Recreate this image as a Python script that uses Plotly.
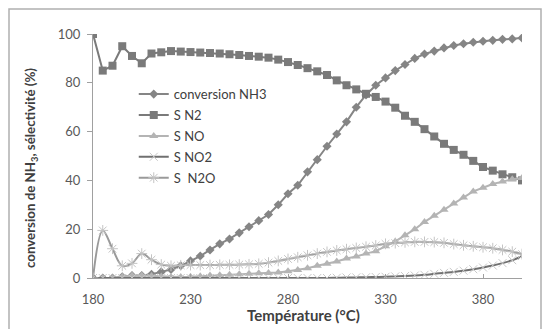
import plotly.graph_objects as go

temperature = [180, 185, 190, 195, 200, 205, 210, 215, 220, 225, 230, 235, 240, 245, 250,
               255, 260, 265, 270, 275, 280, 285, 290, 295, 300, 305, 310, 315, 320, 325,
               330, 335, 340, 345, 350, 355, 360, 365, 370, 375, 380, 385, 390, 395, 400]

conversion_nh3 = [0, 0, 0, 0.5, 1, 1, 1.5, 2.5, 3.5, 5, 7, 9, 11.5, 14, 16,
                  18.5, 21, 23.5, 26, 30, 34.5, 38, 43.5, 48.5, 54, 59, 64, 70, 75, 79,
                  82, 85, 87.5, 90, 91.8, 93, 94.3, 95.3, 96, 96.6, 97, 97.4, 97.8, 98, 98.4]

s_n2 = [100, 85, 87, 95, 91, 88, 92, 92.5, 93, 92.8, 92.6, 92.4, 92.2, 92, 91.7,
        91.4, 91, 90.7, 90.3, 89.5, 88.5, 87.3, 86, 84.7, 83.2, 81, 79, 77.3, 75.5, 74.2,
        72.3, 69.8, 66.5, 64, 61, 58, 55, 52.5, 50.5, 48, 45.5, 44, 42.5, 41.3, 40]

s_no = [0, 0, 0, 0.5, 1, 1, 0.8, 0.6, 0.4, 0.4, 0.5, 0.7, 1, 1.1, 1.3,
        1.5, 1.7, 1.9, 2, 2.3, 2.8, 3.3, 4, 5, 5.8, 6.8, 8, 8.8, 10, 11,
        13, 15, 17.5, 20, 23, 25.5, 28, 30.5, 33, 35.5, 37, 38.5, 39.5, 40.5, 41]

s_no2 = [0, 0, 0, 0, 0, 0, 0, 0, 0, 0, 0, 0, 0, 0, 0,
         0, 0, 0, 0, 0, 0, 0, 0, 0, 0, 0.1, 0.2, 0.25, 0.3, 0.4,
         0.5, 0.65, 0.8, 1.0, 1.3, 1.7, 2.1, 2.5, 3.0, 3.6, 4.3, 5.1, 6.1, 7.3, 9]

s_n2o = [0, 19.5, 12, 5, 6, 10, 7.5, 5.5, 5, 5.2, 5.3, 5.3, 5.3, 5.4, 5.4,
         5.5, 5.6, 5.8, 6.3, 7, 7.8, 8.5, 9.3, 10, 10.7, 11.3, 11.8, 12.3, 12.8, 13.3,
         14, 14.3, 14.6, 14.8, 14.8, 14.7, 14.4, 13.9, 13.4, 13, 12.6, 12.2, 11.5, 10.8, 9.8]

x_ticks = [180, 230, 280, 330, 380]
y_ticks = [0, 20, 40, 60, 80, 100]

x_title = "<b>Température (°C)</b>"
y_title = "<b>conversion de NH<sub>3</sub>, sélectivité (%)</b>"

FONT = "Lato"

fig = go.Figure()
fig.add_trace(go.Scatter(x=temperature, y=conversion_nh3, name="conversion NH3", mode="lines+markers",
                         legendgroup="g1",
                         line=dict(color="#858585", width=2),
                         marker=dict(symbol="diamond", size=7, color="#858585")))
fig.add_trace(go.Scatter(x=temperature, y=s_n2, name="S N2", mode="lines+markers",
                         legendgroup="g2",
                         line=dict(color="#7a7a7a", width=2),
                         marker=dict(symbol="square", size=8, color="#7a7a7a")))
fig.add_trace(go.Scatter(x=temperature, y=s_no, name="S NO", mode="lines+markers",
                         legendgroup="g3",
                         line=dict(color="#b4b4b4", width=2),
                         marker=dict(symbol="triangle-up", size=8, color="#b4b4b4")))
fig.add_trace(go.Scatter(x=temperature, y=s_no2, name="S NO2", mode="lines+markers",
                         legendgroup="g4",
                         line=dict(color="#707070", width=2, shape="spline"),
                         marker=dict(symbol="x-thin-open", size=8, color="#c8c8c8",
                                     line=dict(width=1, color="#c8c8c8"))))
fig.add_trace(go.Scatter(x=temperature, y=s_n2o, name="S  N2O", mode="lines+markers",
                         legendgroup="g5",
                         line=dict(color="#9a9a9a", width=2, shape="spline"),
                         marker=dict(symbol="asterisk-open", size=9, color="#c4c4c4",
                                     line=dict(width=1, color="#c4c4c4"))))

fig.update_layout(
    width=543, height=329,
    margin=dict(l=93, r=21, t=34, b=51),
    paper_bgcolor="white", plot_bgcolor="white",
    font=dict(family=FONT, color="#595959", size=13),
    showlegend=True,
    legend=dict(x=0.095, y=0.815, xanchor="left", yanchor="top",
                bgcolor="rgba(0,0,0,0)", font=dict(size=13, color="#404040"),
                itemwidth=30, tracegroupgap=1),
    xaxis=dict(range=[180, 400], tickvals=x_ticks, ticks="inside", ticklen=4,
               tickcolor="#a0a0a0", showline=True, linecolor="#a0a0a0", linewidth=1,
               showgrid=False, zeroline=False, tickfont=dict(size=13, color="#595959"),
               ticklabelstandoff=9),
    yaxis=dict(range=[0, 100], tickvals=y_ticks, ticks="outside", ticklen=5,
               tickcolor="#a0a0a0", showline=True, linecolor="#a0a0a0", linewidth=1,
               showgrid=False, zeroline=False, tickfont=dict(size=13, color="#595959"),
               ticklabelstandoff=4),
)

fig.add_annotation(text=x_title, xref="paper", yref="paper",
                   x=(303 - 93) / 429, y=(278 - 315) / 244,
                   xanchor="center", yanchor="middle", showarrow=False,
                   font=dict(family=FONT, size=15, color="#404040"))
fig.add_annotation(text=y_title, xref="paper", yref="paper",
                   x=(31 - 93) / 429, y=(278 - 168) / 244, textangle=-90,
                   xanchor="center", yanchor="middle", showarrow=False,
                   font=dict(family=FONT, size=13.3, color="#404040"))

fig.add_shape(type="rect", xref="paper", yref="paper",
              x0=(9 - 93) / 429, x1=(541 - 93) / 429,
              y0=(278 - 335) / 244, y1=(278 - 9) / 244,
              line=dict(color="#b0b0b0", width=1.5), fillcolor="rgba(0,0,0,0)", layer="below")

fig.write_html("out.html", config={"displayModeBar": False},
               post_script="document.body.style.margin='0';")
